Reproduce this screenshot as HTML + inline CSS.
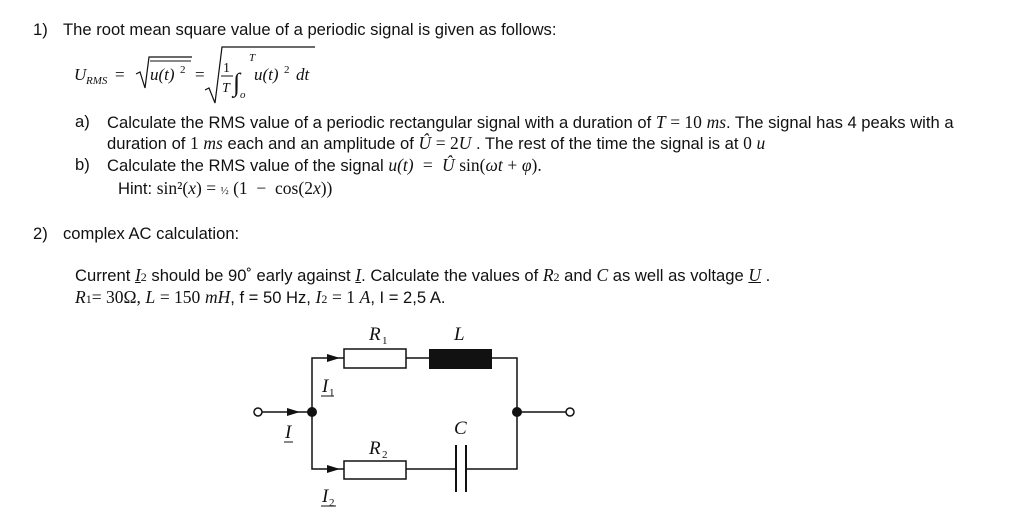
<!DOCTYPE html>
<html><head><style>
body{margin:0;width:1024px;height:517px;background:#fff;position:relative;overflow:hidden;font-family:"Liberation Sans",Arial,sans-serif;font-size:16.6px;color:#111}
.t{position:absolute;white-space:nowrap;line-height:18px}
.m{font-family:"Liberation Serif",serif;font-style:italic;font-size:17.5px}
.r{font-family:"Liberation Serif",serif;font-size:17.5px}
.s{font-family:"Liberation Serif",serif;font-size:12px}
</style></head><body>
<div class="t" style="left:33px;top:21px">1)</div>
<div class="t" style="left:63px;top:21px">The root mean square value of a periodic signal is given as follows:</div>
<svg style="position:absolute;left:0;top:0" width="1024" height="517">
<g font-family="Liberation Serif,serif" font-size="17" fill="#111">
<text x="74" y="80" font-style="italic">U</text><text x="86" y="84" font-style="italic" font-size="11">RMS</text>
<text x="115" y="80">=</text>
<polyline points="136,74 140,72 145,88 149,57 192,57" fill="none" stroke="#111" stroke-width="1.2"/>
<line x1="150" y1="61" x2="191" y2="61" stroke="#111"/>
<text x="150" y="80" font-style="italic">u(t)</text><text x="180" y="73" font-size="11">2</text>
<text x="195" y="80">=</text>
<polyline points="205,90 209,88 215,103 222,47 315,47" fill="none" stroke="#111" stroke-width="1.2"/>
<text x="223" y="72" font-size="14">1</text><line x1="221" y1="76" x2="233" y2="76" stroke="#111"/><text x="222" y="92" font-style="italic" font-size="14">T</text>
<text x="233" y="91" font-size="26" font-style="italic">∫</text>
<text x="249" y="61" font-size="11" font-style="italic">T</text><text x="240" y="98" font-size="11" font-style="italic">o</text>
<text x="254" y="80" font-style="italic">u(t)</text><text x="284" y="73" font-size="11">2</text><text x="296" y="80" font-style="italic">dt</text>
</g>
<g stroke="#111" stroke-width="1.5" fill="none">
<line x1="262" y1="412" x2="312" y2="412"/>
<polyline points="344,358 312,358 312,469 344,469"/>
<line x1="406" y1="358" x2="429" y2="358"/>
<polyline points="492,358 517,358 517,469 466,469"/>
<line x1="406" y1="469" x2="456" y2="469"/>
<line x1="517" y1="412" x2="566" y2="412"/>
<rect x="344" y="349" width="62" height="19"/>
<rect x="344" y="461" width="62" height="18"/>
<line x1="456" y1="445" x2="456" y2="492" stroke-width="2"/>
<line x1="466" y1="445" x2="466" y2="492" stroke-width="2"/>
<circle cx="258" cy="412" r="4" fill="#fff"/>
<circle cx="570" cy="412" r="4" fill="#fff"/>
</g>
<rect x="429" y="349" width="63" height="20" fill="#111"/>
<circle cx="312" cy="412" r="5" fill="#111"/><circle cx="517" cy="412" r="5" fill="#111"/>
<polygon points="287,408 300,412 287,416" fill="#111"/>
<polygon points="327,354 340,358 327,362" fill="#111"/>
<polygon points="327,465 340,469 327,473" fill="#111"/>
<g font-family="Liberation Serif,serif" font-size="19" font-style="italic" fill="#111">
<text x="369" y="340">R</text><text x="382" y="344" font-size="11" font-style="normal">1</text>
<text x="454" y="340">L</text>
<text x="322" y="392">I</text><text x="329" y="396" font-size="11" font-style="normal">1</text><line x1="321" y1="396" x2="334" y2="396" stroke="#111"/>
<text x="285" y="438">I</text><line x1="284" y1="442" x2="293" y2="442" stroke="#111"/>
<text x="369" y="454">R</text><text x="382" y="458" font-size="11" font-style="normal">2</text>
<text x="454" y="434">C</text>
<text x="322" y="502">I</text><text x="329" y="506" font-size="11" font-style="normal">2</text><line x1="321" y1="506" x2="336" y2="506" stroke="#111"/>
</g>
</svg>
<div class="t" style="left:75px;top:113px">a)</div>
<div class="t" style="left:107px;top:113px">Calculate the RMS value of a periodic rectangular signal with a duration of <span class="m">T</span> <span class="r">= 10</span> <span class="m">ms</span>. The signal has 4 peaks with a</div>
<div class="t" style="left:107px;top:134px">duration of <span class="r">1</span> <span class="m">ms</span> each and an amplitude of <span class="m">Û</span> <span class="r">= 2</span><span class="m">U</span> . The rest of the time the signal is at <span class="r">0</span> <span class="m">u</span></div>
<div class="t" style="left:75px;top:156px">b)</div>
<div class="t" style="left:107px;top:156px">Calculate the RMS value of the signal <span class="m">u(t)</span> &nbsp;<span class="r">=</span>&nbsp; <span class="m">Û</span> <span class="r">sin(</span><span class="m">ωt</span> <span class="r">+</span> <span class="m">φ</span><span class="r">).</span></div>
<div class="t" style="left:118px;top:179px">Hint: <span class="r">sin²(</span><span class="m">x</span><span class="r">) = <span style="font-size:11px">½</span> (1 &nbsp;− &nbsp;cos(2</span><span class="m">x</span><span class="r">))</span></div>
<div class="t" style="left:33px;top:225px">2)</div>
<div class="t" style="left:63px;top:225px">complex AC calculation:</div>
<div class="t" style="left:75px;top:266px">Current <span class="m" style="text-decoration:underline">I</span><span class="s">2</span> should be 90˚ early against <span class="m" style="text-decoration:underline">I</span>. Calculate the values of <span class="m">R</span><span class="s">2</span> and <span class="m">C</span> as well as voltage <span class="m" style="text-decoration:underline">U</span> .</div>
<div class="t" style="left:75px;top:288px"><span class="m">R</span><span class="s">1</span><span class="r">= 30Ω,</span> <span class="m">L</span> <span class="r">= 150</span> <span class="m">mH</span>, f = 50 Hz, <span class="m">I</span><span class="s">2</span> <span class="r">= 1</span> <span class="m">A</span>, I = 2,5 A.</div>
</body></html>
